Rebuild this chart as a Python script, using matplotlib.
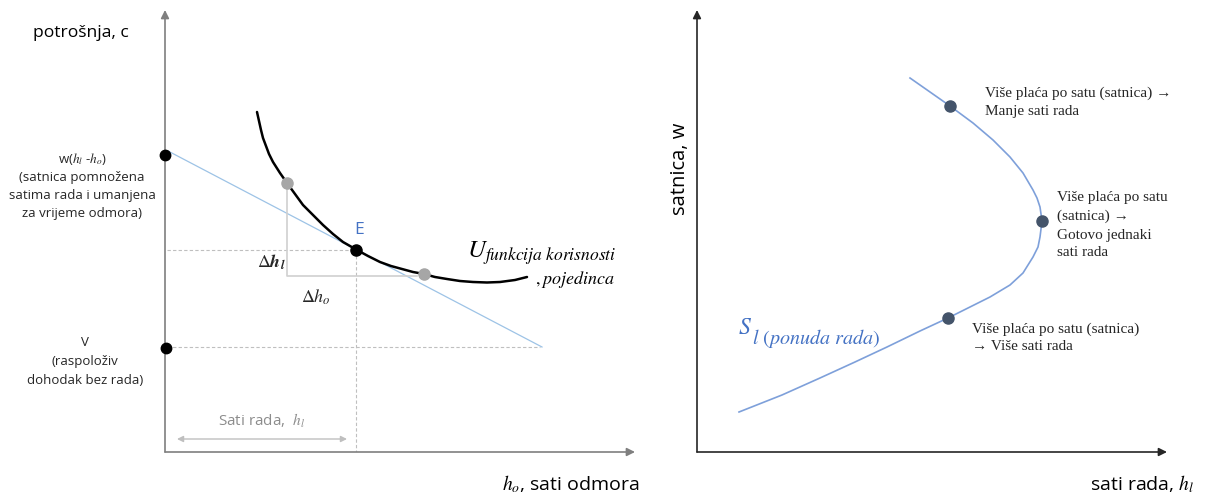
import matplotlib.pyplot as plt
import numpy as np

plt.rcParams['font.family'] = ['Open Sans', 'DejaVu Sans']
plt.rcParams['mathtext.fontset'] = 'stix'

# --- lijevi graf: potrošnja / sati odmora ---
# krivulja indiferencije (U)
u_x = [92, 94, 96, 98, 101, 104, 108, 115, 122, 130, 138, 148, 158, 168, 178, 192, 203, 215,
       226, 237, 248, 259, 270, 282, 295, 308, 322, 335, 350, 362]
u_y = [340, 331, 322, 314, 306, 298, 290, 279, 269, 258, 247, 237, 227, 218, 210, 202, 196, 190,
       186, 183, 180, 178, 175, 173, 171, 170, 169.5, 170, 172, 175]

# budžetsko ograničenje
budget_x = [3, 377]
budget_y = [301, 105]

# točke na osi c: w(h_l - h_o) i V
axis_pts_x = [0, 1]
axis_pts_y = [297, 104]

# ravnoteža E
e_x, e_y = 191, 202

# sive točke na krivulji
grey_x = [122, 259]
grey_y = [269, 178]
tri_y = 176

# --- desni graf: ponuda rada ---
s_x = [42, 85, 123, 158, 190, 223, 251, 273, 293, 313, 326, 336, 341, 343, 345,
       343, 340, 336, 326, 313, 296, 276, 253, 213]
s_y = [40, 57, 74, 90, 105, 121, 134, 145, 155, 167, 179, 195, 205, 215, 231,
       245, 254, 262, 279, 295, 312, 329, 346, 374]
dots_x = [251, 345, 253]
dots_y = [134, 231, 346]

fig = plt.figure(figsize=(12.11, 4.95), dpi=100)
ax1 = fig.add_axes([165 / 1211, 43 / 495, 470 / 1211, 442 / 495])
ax2 = fig.add_axes([697 / 1211, 43 / 495, 470 / 1211, 442 / 495])

for ax, col in [(ax1, '#7f7f7f'), (ax2, '#262626')]:
    ax.set_xlim(0, 470)
    ax.set_ylim(0, 442)
    ax.axis('off')
    # osi sa strelicama
    ax.annotate('', xy=(1, 0), xytext=(0, 0), xycoords='axes fraction',
                arrowprops=dict(arrowstyle='-|>', color=col, lw=1.2,
                                mutation_scale=12, shrinkA=0, shrinkB=0))
    ax.annotate('', xy=(0, 1), xytext=(0, 0), xycoords='axes fraction',
                arrowprops=dict(arrowstyle='-|>', color=col, lw=1.2,
                                mutation_scale=12, shrinkA=0, shrinkB=0))

# lijevi graf
ax1.plot(budget_x, budget_y, color='#9DC3E6', lw=0.9)
ax1.plot([2, e_x], [e_y, e_y], color='#BFBFBF', lw=0.8, ls=(0, (3, 2)))
ax1.plot([e_x, e_x], [e_y, 0], color='#BFBFBF', lw=0.8, ls=(0, (3, 2)))
ax1.plot([2, budget_x[1] - 2], [axis_pts_y[1] + 1, axis_pts_y[1] + 1],
         color='#BFBFBF', lw=0.8, ls=(0, (3, 2)))
ax1.plot([grey_x[0], grey_x[0], grey_x[1] - 7], [grey_y[0], tri_y, tri_y],
         color='#D0D0D0', lw=1.2)
ax1.plot(u_x, u_y, color='black', lw=1.8, solid_capstyle='round')
ax1.plot(grey_x, grey_y, 'o', color='#A6A6A6', ms=8, zorder=5)
ax1.plot(axis_pts_x, axis_pts_y, 'o', color='black', ms=7.5, clip_on=False, zorder=5)
ax1.plot([e_x], [e_y], 'o', color='black', ms=8, zorder=5)

ax1.text(194, 222, 'E', color='#4472C4', fontsize=12.5, ha='center', va='center')
ax1.text(106, 190, r'$\Delta\boldsymbol{h}_{\boldsymbol{l}}$', fontsize=13,
         ha='center', va='center', color='#262626')
ax1.text(151, 155, r'$\Delta h_o$', fontsize=13, ha='center', va='center', color='#262626')
ax1.text(302, 199, r'$U_{funkcija\ korisnosti}$', fontsize=18, ha='left', va='center')
ax1.text(450, 172, r'$,pojedinca$', fontsize=13, ha='right', va='center')

ax1.annotate('', xy=(182, 13), xytext=(12, 13), xycoords='data',
             arrowprops=dict(arrowstyle='<|-|>', color='#BFBFBF', lw=1.0,
                             mutation_scale=9, shrinkA=0, shrinkB=0))
ax1.text(97, 31, r'Sati rada,  $h_l$', color='#8c8c8c', fontsize=11,
         ha='center', va='center')

lbl = dict(fontsize=9.5, ha='center', va='center', color='#262626')
ax1.text(-83, 293, r'w($h_l$ -$h_o$)', **lbl)
ax1.text(-83, 275, '(satnica pomnožena', **lbl)
ax1.text(-83, 257, 'satima rada i umanjena', **lbl)
ax1.text(-83, 239, 'za vrijeme odmora)', **lbl)
ax1.text(-80, 110, 'V', **lbl)
ax1.text(-80, 90, '(raspoloživ', **lbl)
ax1.text(-80, 72, 'dohodak bez rada)', **lbl)

ax1.text(-84, 419, 'potrošnja, c', fontsize=12.6, ha='center', va='center')
ax1.text(337, -32, r'$h_o$, sati odmora', fontsize=14, ha='left', va='center')

# desni graf
ax2.plot(s_x, s_y, color='#7EA0DA', lw=1.2)
ax2.plot(dots_x, dots_y, 'o', color='#44546A', ms=8, zorder=5)
ax2.text(41, 124, r'$S$', color='#4472C4', fontsize=17, ha='left', va='center')
ax2.text(55, 113, r'$l\ (ponuda\ rada)$', color='#4472C4', fontsize=14.5,
         ha='left', va='center')

note = dict(family=['Liberation Serif', 'DejaVu Serif'], fontsize=11,
            ha='left', va='center', color='#262626')
ax2.text(288, 359, 'Više plaća po satu (satnica) →', **note)
ax2.text(288, 340, 'Manje sati rada', **note)
ax2.text(360, 255, 'Više plaća po satu', **note)
ax2.text(360, 236, '(satnica) →', **note)
ax2.text(360, 217, 'Gotovo jednaki', **note)
ax2.text(360, 199, 'sati rada', **note)
ax2.text(275, 123, 'Više plaća po satu (satnica)', **note)
ax2.text(275, 105, '→ Više sati rada', **note)

ax2.text(-17, 283, 'satnica, w', fontsize=14.5, rotation=90, ha='center', va='center')
ax2.text(393, -32, r'sati rada, $h_l$', fontsize=14, ha='left', va='center')

fig.savefig('out.png', dpi=100)
